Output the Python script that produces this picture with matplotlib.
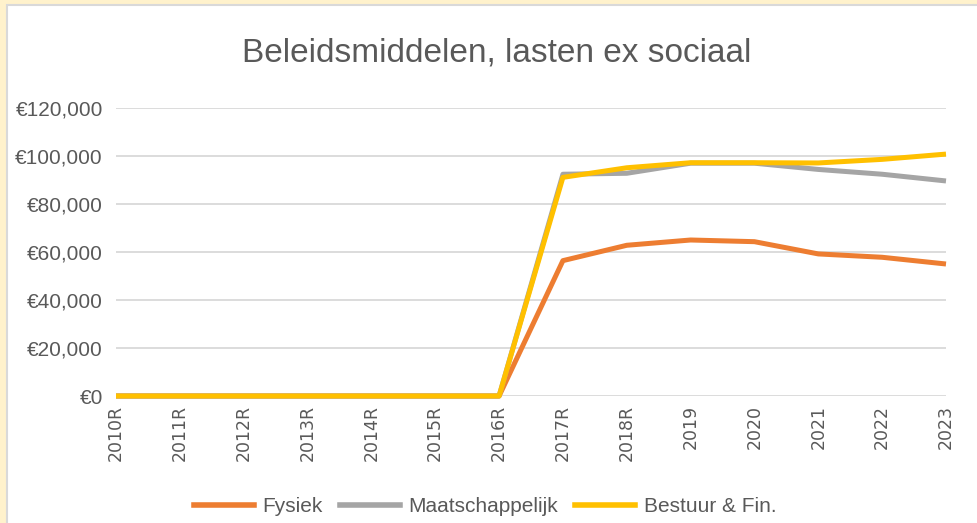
import matplotlib
matplotlib.use("Agg")
import matplotlib.pyplot as plt
from matplotlib.patches import Rectangle
from matplotlib.ticker import FuncFormatter
from matplotlib.lines import Line2D

categories = ["2010R", "2011R", "2012R", "2013R", "2014R", "2015R", "2016R",
              "2017R", "2018R", "2019", "2020", "2021", "2022", "2023"]
fysiek = [0, 0, 0, 0, 0, 0, 0, 56400, 62800, 65000, 64300, 59200, 57800, 55000]
maatschappelijk = [0, 0, 0, 0, 0, 0, 0, 92400, 92800, 97000, 97000, 94400, 92400, 89600]
bestuur = [0, 0, 0, 0, 0, 0, 0, 91100, 95100, 97200, 97200, 97100, 98600, 100800]
series_names = ["Fysiek", "Maatschappelijk", "Bestuur & Fin."]
colors = ["#ED7D31", "#A5A5A5", "#FFC000"]
title = "Beleidsmiddelen, lasten ex sociaal"

W, H = 978, 523
fig = plt.figure(figsize=(W / 100, H / 100), dpi=100)
fig.patch.set_facecolor("#FFF2CC")
fig.patches.append(Rectangle((7 / W, -0.05), 1.1, 1 - 5 / H + 0.05, transform=fig.transFigure,
                             facecolor="white", edgecolor="#D9D9D9", linewidth=1.5, zorder=-10))

txt = "#595959"
narrow = ["Liberation Sans Narrow", "Liberation Sans", "DejaVu Sans"]

ax = fig.add_axes([116 / W, 1 - 396 / H, (946 - 116) / W, (396 - 108) / H])
ax.set_zorder(5)
ax.set_facecolor("none")
x = list(range(len(categories)))
for vals, c in zip([fysiek, maatschappelijk, bestuur], colors):
    ax.plot(x, vals, color=c, linewidth=3.6, solid_capstyle="butt", solid_joinstyle="round",
            zorder=3, clip_on=False)

ax.set_xlim(0, len(categories) - 1)
ax.set_ylim(0, 120000)
ax.set_yticks(range(0, 120001, 20000))
ax.yaxis.set_major_formatter(FuncFormatter(lambda v, p: "€{:,.0f}".format(v)))
ax.set_xticks(x)
ax.set_xticklabels(categories, rotation=90, fontsize=12.5, color=txt, family="DejaVu Sans")
for lab in ax.get_yticklabels():
    lab.set_family(narrow)
    lab.set_fontsize(15)
    lab.set_color(txt)
ax.tick_params(axis="both", length=0)
ax.tick_params(axis="y", pad=9.5)
ax.tick_params(axis="x", pad=6.5)
ax.grid(axis="y", color="#D9D9D9", linewidth=1.3, zorder=0)
for s in ax.spines.values():
    s.set_visible(False)

fig.text(497 / W, 1 - 53 / H, title, ha="center", va="center", fontsize=24,
         color=txt, family=narrow)

handles = [Line2D([0], [0], color=c, linewidth=4) for c in colors]
fig.legend(handles, series_names, loc="center", bbox_to_anchor=(485 / W, 1 - 507 / H),
           ncol=3, frameon=False, prop={"family": narrow, "size": 15},
           labelcolor=txt, handlelength=2.9, columnspacing=0.8, handletextpad=0.4)

fig.savefig("out.png", dpi=100, facecolor=fig.get_facecolor())
